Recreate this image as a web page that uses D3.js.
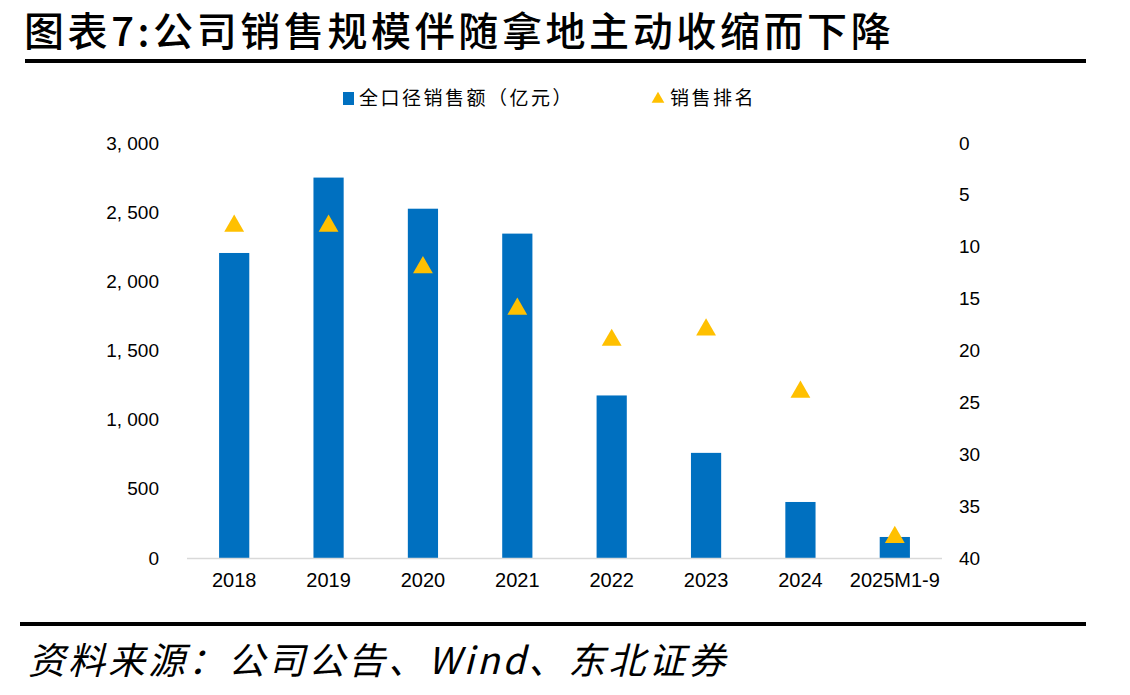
<!DOCTYPE html>
<html>
<head>
<meta charset="utf-8">
<script src="https://cdn.jsdelivr.net/npm/d3@7"></script>
<style>
  body { margin: 0; background: #fff; }
  text { font-family: "Liberation Sans", Arial, sans-serif; }
  .cjk { font-family: "Noto Sans CJK SC", sans-serif; }
</style>
</head>
<body>
<figure id="chart" style="margin:0"></figure>
<script>
const categories = ["2018", "2019", "2020", "2021", "2022", "2023", "2024", "2025M1-9"];
const sales = [2205, 2750, 2525, 2345, 1175, 760, 405, 152];   // 全口径销售额（亿元）
const ranks = [8, 8, 12, 16, 19, 18, 24, 38];                   // 销售排名
const leftTicks = [0, 500, 1000, 1500, 2000, 2500, 3000];
const rightTicks = [0, 5, 10, 15, 20, 25, 30, 35, 40];

const width = 1130, height = 695;
const plot = { left: 187, right: 942, top: 143, bottom: 558 };

const svg = d3.select("figure#chart")
  .append("svg")
  .attr("width", width)
  .attr("height", height);

// title
svg.append("text")
  .attr("class", "cjk")
  .attr("x", 24)
  .attr("y", 46)
  .attr("font-size", 40)
  .attr("font-weight", 500)
  .attr("letter-spacing", 3.6)
  .attr("fill", "#000")
  .text("图表7:公司销售规模伴随拿地主动收缩而下降");

svg.append("line")
  .attr("x1", 25).attr("x2", 1086)
  .attr("y1", 61).attr("y2", 61)
  .attr("stroke", "#000").attr("stroke-width", 4);

// legend
const legend = svg.append("g").attr("transform", "translate(0,98)");
legend.append("rect")
  .attr("x", 343).attr("y", -6).attr("width", 11).attr("height", 13)
  .attr("fill", "#0070C0");
legend.append("text")
  .attr("class", "cjk")
  .attr("x", 359).attr("y", 7)
  .attr("font-size", 19)
  .attr("letter-spacing", 2.5)
  .text("全口径销售额（亿元）");
legend.append("path")
  .attr("d", d3.symbol(d3.symbolTriangle, 70)())
  .attr("transform", "translate(658,1)")
  .attr("fill", "#FFC000");
legend.append("text")
  .attr("class", "cjk")
  .attr("x", 670).attr("y", 7)
  .attr("font-size", 19)
  .attr("letter-spacing", 2.5)
  .text("销售排名");

// scales
const x = d3.scaleBand()
  .domain(categories)
  .range([plot.left, plot.right])
  .paddingInner(0.68)
  .paddingOuter(0.34);

const yLeft = d3.scaleLinear()
  .domain([0, 3000])
  .range([plot.bottom, plot.top]);

const yRight = d3.scaleLinear()
  .domain([0, 40])
  .range([plot.top, plot.bottom]);

// left axis
const leftAxis = svg.append("g")
  .attr("transform", "translate(159,0)")
  .call(d3.axisLeft(yLeft).tickValues(leftTicks).tickSize(0)
    .tickFormat(d => d3.format(",")(d).replace(",", ", ")));
leftAxis.select(".domain").remove();
leftAxis.selectAll("text")
  .attr("font-size", 19)
  .attr("font-family", "'Liberation Sans', Arial, sans-serif")
  .attr("fill", "#000")
  .attr("x", 0);

// right axis
const rightAxis = svg.append("g")
  .attr("transform", "translate(959,0)")
  .call(d3.axisRight(yRight).tickValues(rightTicks).tickSize(0));
rightAxis.select(".domain").remove();
rightAxis.selectAll("text")
  .attr("font-size", 19)
  .attr("font-family", "'Liberation Sans', Arial, sans-serif")
  .attr("fill", "#000")
  .attr("x", 0);

// bars
svg.selectAll("rect.bar")
  .data(categories)
  .enter()
  .append("rect")
  .attr("class", "bar")
  .attr("x", d => x(d))
  .attr("y", (d, i) => yLeft(sales[i]))
  .attr("width", x.bandwidth())
  .attr("height", (d, i) => plot.bottom - yLeft(sales[i]))
  .attr("fill", "#0070C0");

// baseline
svg.append("line")
  .attr("x1", plot.left).attr("x2", plot.right)
  .attr("y1", plot.bottom + 0.5).attr("y2", plot.bottom + 0.5)
  .attr("stroke", "#d9d9d9").attr("stroke-width", 1.5);

// rank triangles
svg.selectAll("path.rank")
  .data(categories)
  .enter()
  .append("path")
  .attr("class", "rank")
  .attr("d", d3.symbol(d3.symbolTriangle, 170)())
  .attr("transform", (d, i) => "translate(" + (x(d) + x.bandwidth() / 2) + "," + yRight(ranks[i]) + ")")
  .attr("fill", "#FFC000");

// x axis labels
const xAxis = svg.append("g")
  .attr("transform", "translate(0," + plot.bottom + ")")
  .call(d3.axisBottom(x).tickSize(0).tickPadding(15));
xAxis.select(".domain").remove();
xAxis.selectAll("text")
  .attr("font-size", 20)
  .attr("font-family", "'Liberation Sans Narrow', 'DejaVu Sans Condensed', sans-serif")
  .attr("fill", "#000");

// footer
svg.append("line")
  .attr("x1", 20).attr("x2", 1086)
  .attr("y1", 624).attr("y2", 624)
  .attr("stroke", "#000").attr("stroke-width", 4);

svg.append("text")
  .attr("class", "cjk")
  .attr("x", 28)
  .attr("y", 674)
  .attr("font-size", 37)
  .attr("font-style", "italic")
  .attr("letter-spacing", 3)
  .attr("fill", "#000")
  .text("资料来源：公司公告、Wind、东北证券");
</script>
</body>
</html>
